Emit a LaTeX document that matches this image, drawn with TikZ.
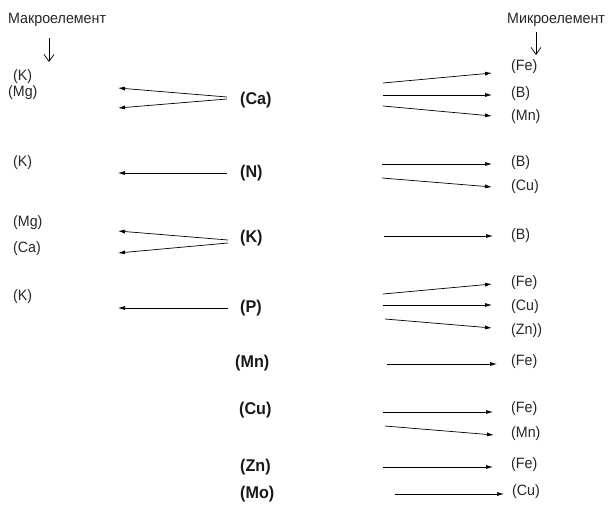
\documentclass[tikz,border=0pt]{standalone}
\usepackage{fontspec}
\setmainfont{Liberation Sans}[FakeStretch=0.95]
\usepackage{tikz}
\usetikzlibrary{positioning,arrows.meta}

\tikzset{
  lbl/.style={anchor=west, inner sep=0pt, text=black!85, font=\fontsize{15}{17}\selectfont},
  elem/.style={anchor=west, inner sep=0pt, text=black!90, font=\fontsize{17}{19}\selectfont\bfseries},
  arr/.style={-{Latex[length=7pt,width=4pt]}, line width=0.7pt},
  downarr/.style={-{Straight Barb[length=7pt,width=10pt]}, line width=0.7pt}
}

\begin{document}
\begin{tikzpicture}[x=1pt,y=-1pt]
\useasboundingbox (0,0) rectangle (608,504);

% Headings
\node[lbl] (macro) at (8,20) {Макроелемент};
\node[lbl] (micro) at (507,20) {Микроелемент};
\coordinate (macroTop) at (49,38);
\coordinate (macroEnd) at (49,62);
\coordinate (microTop) at (536,32);
\coordinate (microEnd) at (536,55);
\draw[downarr] (macroTop) -- (macroEnd);
\draw[downarr] (microTop) -- (microEnd);

% Macroelements (left)
\node[lbl] (kA) at (13,77) {(K)};
\node[lbl] (mgA) at (8,93) {(Mg)};
\node[lbl] (kB) at (13,163) {(K)};
\node[lbl] (mgC) at (13,223) {(Mg)};
\node[lbl] (caC) at (13,249) {(Ca)};
\node[lbl] (kD) at (13,297) {(K)};

% Elements (middle)
\node[elem] (ca) at (240,100) {(Ca)};
\node[elem] (n) at (240,173) {(N)};
\node[elem] (k) at (240,238) {(K)};
\node[elem] (p) at (240,308) {(P)};
\node[elem] (mn) at (235,363) {(Mn)};
\node[elem] (cu) at (239,410) {(Cu)};
\node[elem] (zn) at (240,467) {(Zn)};
\node[elem] (mo) at (240,494) {(Mo)};

% Microelements (right)
\node[lbl] (feA) at (511,67) {(Fe)};
\node[lbl] (bA) at (511,94) {(B)};
\node[lbl] (mnA) at (511,117) {(Mn)};
\node[lbl] (bB) at (511,163) {(B)};
\node[lbl] (cuB) at (511,187) {(Cu)};
\node[lbl] (bC) at (511,236) {(B)};
\node[lbl] (feD) at (511,283) {(Fe)};
\node[lbl] (cuD) at (511,307) {(Cu)};
\node[lbl] (znD) at (511,331) {(Zn))};
\node[lbl] (feE) at (511,362) {(Fe)};
\node[lbl] (feF) at (511,409) {(Fe)};
\node[lbl] (mnF) at (511,434) {(Mn)};
\node[lbl] (feG) at (511,465) {(Fe)};
\node[lbl] (cuH) at (512,492) {(Cu)};

% Arrow ends
\foreach \nm/\x/\y in {
    caL1/227/97, caL1e/118/88, caL2/227/99, caL2e/118/108,
    caR1/383/83, caR1e/492/73, caR2/383/95, caR2e/492/95, caR3/383/106, caR3e/492/116,
    nL/227/173, nLe/118/173,
    nR1/382/164, nR1e/492/164, nR2/382/178, nR2e/492/187,
    kL1/228/240, kL1e/118/231, kL2/228/243, kL2e/118/253,
    kR/384/236, kRe/493/236,
    pL/228/308, pLe/118/308,
    pR1/383/294, pR1e/492/284, pR2/383/305, pR2e/492/305, pR3/385/319, pR3e/492/328,
    mnR/387/364, mnRe/497/364,
    cuR1/383/412, cuR1e/493/412, cuR2/385/426, cuR2e/494/435,
    znR/383/467, znRe/493/467,
    moR/395/494, moRe/504/494}
  \coordinate (\nm) at (\x,\y);

% Arrows
\foreach \a in {caL1,caL2,caR1,caR2,caR3,nL,nR1,nR2,kL1,kL2,kR,
                pL,pR1,pR2,pR3,mnR,cuR1,cuR2,znR,moR}
  \draw[arr] (\a) -- (\a e);
\end{tikzpicture}
\end{document}
